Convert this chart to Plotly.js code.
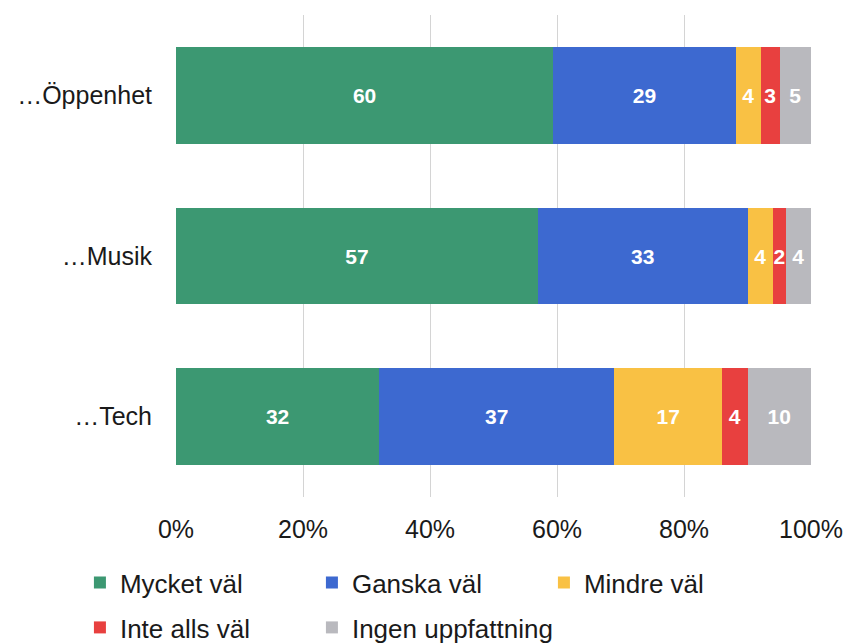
<!DOCTYPE html>
<html>
<head>
<meta charset="utf-8">
<script src="https://cdn.plot.ly/plotly-3.0.1.min.js"></script>
<style>html,body{margin:0;padding:0;background:#fff;}#chart{width:848px;height:643px;}</style>
</head>
<body>
<div id="chart"></div>
<script>
const categories = ['…Öppenhet', '…Musik', '…Tech'];
const seriesNames = ['Mycket väl', 'Ganska väl', 'Mindre väl', 'Inte alls väl', 'Ingen uppfattning'];
const mycketVal = [60, 57, 32];
const ganskaVal = [29, 33, 37];
const mindreVal = [4, 4, 17];
const inteAllsVal = [3, 2, 4];
const ingenUppfattning = [5, 4, 10];
const xTickVals = [0, 20, 40, 60, 80, 100];
const xTickText = ['0%', '20%', '40%', '60%', '80%', '100%'];

const seriesValues = [mycketVal, ganskaVal, mindreVal, inteAllsVal, ingenUppfattning];
const colors = ['#3c9872', '#3d69d0', '#f9c144', '#e8403f', '#b9b9be'];
const legendOf = ['legend', 'legend', 'legend', 'legend2', 'legend2'];
const legendWidths = [187, 187, 187, 187, 240];

const traces = seriesValues.map((vals, i) => ({
  type: 'bar',
  orientation: 'h',
  name: seriesNames[i],
  y: categories,
  x: vals,
  text: vals.map(String),
  texttemplate: '%{text}',
  textposition: 'inside',
  insidetextanchor: 'middle',
  constraintext: 'none',
  textfont: {family: 'Liberation Sans, Arial, sans-serif', size: 21, color: '#ffffff', weight: 'bold'},
  marker: {color: colors[i], line: {width: 0}},
  legend: legendOf[i],
  legendwidth: legendWidths[i],
  hoverinfo: 'skip'
}));

const legendCommon = {
  orientation: 'h',
  xanchor: 'left',
  yanchor: 'top',
  font: {family: 'Liberation Sans, Arial, sans-serif', size: 26, color: '#1a1a1a'},
  bgcolor: 'rgba(0,0,0,0)',
  borderwidth: 0,
  entrywidthmode: 'pixels',
  itemclick: false,
  traceorder: 'normal'
};

const layout = {
  width: 848,
  height: 643,
  margin: {l: 176, r: 37, t: 14.5, b: 145.5, autoexpand: false},
  paper_bgcolor: '#ffffff',
  plot_bgcolor: '#ffffff',
  barmode: 'stack',
  barnorm: 'percent',
  bargap: 0.4,
  showlegend: true,
  xaxis: {
    range: [0, 100],
    tickvals: xTickVals,
    ticktext: xTickText,
    showgrid: true,
    gridcolor: '#d4d4d4',
    gridwidth: 1,
    zeroline: false,
    showline: false,
    ticks: '',
    ticklabelstandoff: 15,
    tickfont: {family: 'Liberation Sans, Arial, sans-serif', size: 25, color: '#1a1a1a'},
    fixedrange: true
  },
  yaxis: {
    type: 'category',
    categoryorder: 'array',
    categoryarray: categories,
    autorange: 'reversed',
    showgrid: false,
    zeroline: false,
    showline: false,
    ticks: '',
    ticklabelstandoff: 23,
    tickfont: {family: 'Liberation Sans, Arial, sans-serif', size: 25, color: '#1a1a1a'},
    fixedrange: true
  },
  legend: Object.assign({}, legendCommon, {x: -0.1513, y: -0.129}),
  legend2: Object.assign({}, legendCommon, {x: -0.1513, y: -0.222})
};

Plotly.newPlot('chart', traces, layout, {displayModeBar: false, staticPlot: true});
</script>
</body>
</html>
